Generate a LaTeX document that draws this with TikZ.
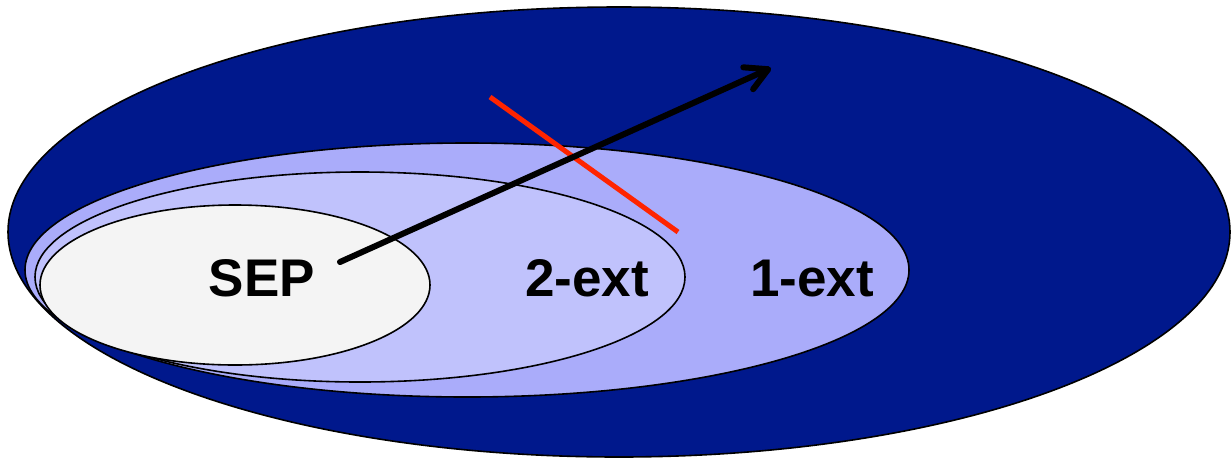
\documentclass[tikz,border=0pt]{standalone}
\usepackage{fontspec}
\setmainfont{Liberation Sans}
\usepackage{xcolor}
\usetikzlibrary{arrows.meta, shapes.geometric}

\definecolor{outerblue}{RGB}{0,24,140}
\definecolor{oneext}{RGB}{170,172,250}
\definecolor{twoext}{RGB}{192,194,252}
\definecolor{sepgray}{RGB}{244,244,244}
\definecolor{cutred}{RGB}{255,36,0}

\begin{document}
\begin{tikzpicture}[
    x=1pt, y=-1pt,
    region/.style={draw, ellipse, line width=1.6pt, inner sep=0pt},
    setname/.style={font=\fontsize{53}{60}\selectfont\bfseries, anchor=base},
    line/.style={line width=6pt, line cap=round, -{Straight Barb[length=22pt, width=24pt, line cap=round, line join=round]}}
]
\useasboundingbox (0,0) rectangle (1231,459);

% Nested regions
\node[region, fill=outerblue, minimum width=1222pt, minimum height=450pt] (all) at (619,232) {};
\node[region, fill=oneext, minimum width=884pt, minimum height=254pt] (one) at (467,270) {};
\node[region, fill=twoext, minimum width=650pt, minimum height=210pt] (two) at (360,277) {};
\node[region, fill=sepgray, minimum width=390pt, minimum height=160pt] (sep) at (235,285) {};

% Labels
\node[setname] (seplbl) at (262,296) {SEP};
\node[setname] (twolbl) at (587,296) {2-ext};
\node[setname] (onelbl) at (812,296) {1-ext};

% Direction and cut
\coordinate (start) at (340,262);
\coordinate (goal) at (771,68);
\coordinate (cuta) at (490,97);
\coordinate (cutb) at (678,232);
\draw[cutred, line width=5pt] (cuta) -- (cutb);
\draw[line] (start) -- (goal);

\end{tikzpicture}
\end{document}
